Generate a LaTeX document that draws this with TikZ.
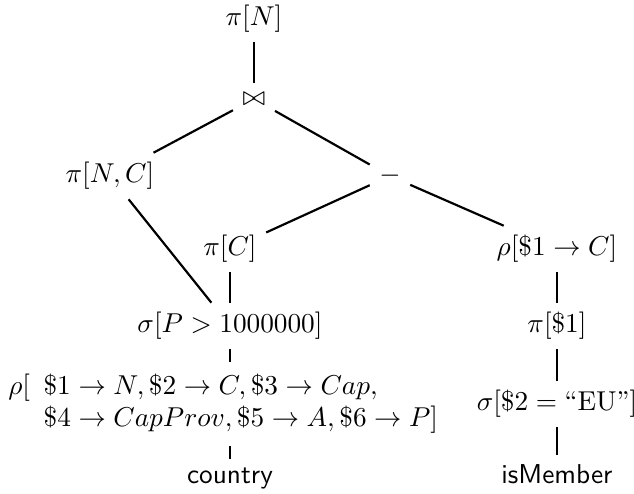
\documentclass[tikz,border=0pt]{standalone}
\usepackage{tikz}
\usetikzlibrary{positioning}
\usepackage{amsmath}
\usepackage{amssymb}

\begin{document}
\begin{tikzpicture}[
    op/.style={
        inner sep=3.33pt,
        text centered
    },
    rel/.style={
        inner sep=3.33pt,
        font=\sffamily
    },
    tedge/.style={thick, color=black},
]
\useasboundingbox (0,0) rectangle (8.163,-6.360);

% Raiz y union
\node[op] (projN) at (3.270,-0.245) {$\pi[N]$};
\node[op] (join) at (3.270,-1.275) {$\bowtie$};

% Segundo nivel
\node[op] (projNC) at (1.416,-2.266) {$\pi[N,C]$};
\node[op] (minus) at (5.021,-2.266) {$-$};

% Rama izquierda
\node[op] (projC) at (2.961,-3.206) {$\pi[C]$};
\node[op] (selP) at (2.961,-4.197) {$\sigma[P > 1000000]$};
\node[op] (renAll) at (2.961,-5.201) {$\rho[\begin{array}[t]{l}
    \$1 \to N, \$2 \to C, \$3 \to Cap,\\
    \$4 \to CapProv, \$5 \to A, \$6 \to P]
  \end{array}$};
\node[rel, anchor=base] (country) at (2.961,-6.231) {country};

% Rama derecha
\node[op] (renC) at (7.171,-3.206) {$\rho[\$1 \to C]$};
\node[op] (proj1) at (7.171,-4.197) {$\pi[\$1]$};
\node[op] (selEU) at (7.171,-5.201) {$\sigma[\$2 = \text{``EU''}]$};
\node[rel, anchor=base] (member) at (7.171,-6.231) {isMember};

% Aristas
\draw[tedge] (projN) -- (join);
\draw[tedge] (join) -- (projNC);
\draw[tedge] (join) -- (minus);
\draw[tedge] (projNC) -- (selP);
\draw[tedge] (minus) -- (projC);
\draw[tedge] (minus) -- (renC);
\draw[tedge] (projC) -- (selP);
\draw[tedge] (selP) -- (renAll);
\draw[tedge] (renAll) -- (country);
\draw[tedge] (renC) -- (proj1);
\draw[tedge] (proj1) -- (selEU);
\draw[tedge] (selEU) -- (member);

\end{tikzpicture}
\end{document}
